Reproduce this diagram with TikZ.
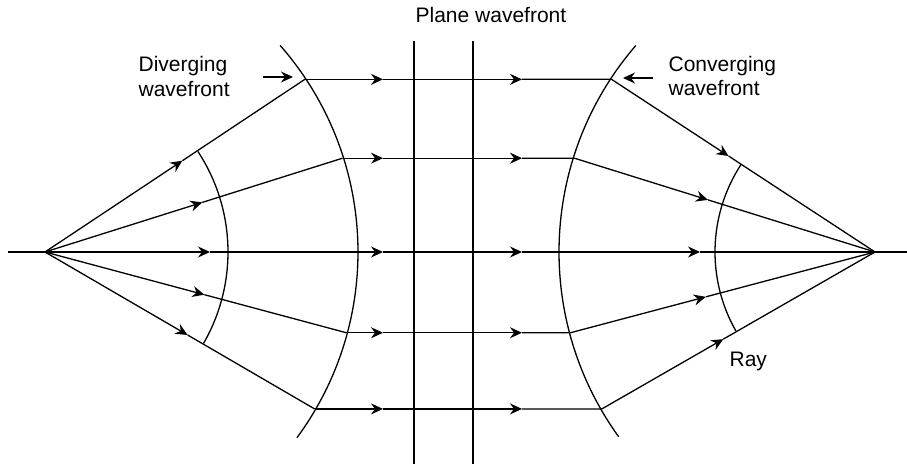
\documentclass[tikz,border=0pt]{standalone}
\usepackage{fontspec}
\setmainfont{Liberation Sans}
\usetikzlibrary{arrows.meta,calc}
\begin{document}
\begin{tikzpicture}[x=0.5pt,y=-0.5pt, line width=0.65pt,
  tip/.style={-{Stealth[length=6pt,width=5.5pt,inset=2pt]}},
  lbl/.style={font=\fontsize{10.5}{12}\selectfont, inner sep=0pt}]
\useasboundingbox (0,0) rectangle (907,464);
% centres
\coordinate (S) at (45,252);
\coordinate (F) at (875,252);
\coordinate (A0) at (8,252);
\coordinate (A1) at (907,252);
\coordinate (xa) at (383,252);
\coordinate (xb) at (522,252);
% points on the large wavefronts
\coordinate (L1) at ($(S)+(-33.6:312)$);
\coordinate (L2) at ($(S)+(-17.5:312)$);
\coordinate (L3) at ($(S)+(0:312)$);
\coordinate (L4) at ($(S)+(15.0:312)$);
\coordinate (L5) at ($(S)+(30.2:312)$);
\coordinate (R1) at ($(F)+(213.24:315)$);
\coordinate (R2) at ($(F)+(197.33:315)$);
\coordinate (R3) at ($(F)+(180:315)$);
\coordinate (R4) at ($(F)+(165.15:315)$);
\coordinate (R5) at ($(F)+(150.12:315)$);
% axis ends
\draw (A0) -- (S);
\draw (F) -- (A1);
% diverging rays
\foreach \i in {1,...,5}{
  \draw[tip] (S) -- ($(S)!82.5pt!(L\i)$);
  \draw ($(S)!82.5pt!(L\i)$) -- (L\i);
  \draw[tip] (L\i) -- (L\i -| xa);
  \draw[tip] (L\i -| xa) -- (L\i -| xb);
  \draw (L\i -| xb) -- (R\i);
  \draw[tip] (R\i) -- ($(R\i)!70pt!(F)$);
  \draw ($(R\i)!70pt!(F)$) -- (F);
}
% wavefronts
\draw ($(S)+(-33.3:183)$) arc[start angle=-33.3, end angle=30, radius=183];
\draw ($(S)+(-41.3:313)$) arc[start angle=-41.3, end angle=36.4, radius=313];
\draw ($(F)+(144.2:316)$) arc[start angle=144.2, end angle=220.8, radius=316];
\draw ($(F)+(150.4:160)$) arc[start angle=150.4, end angle=213.1, radius=160];
% plane wavefronts
\coordinate (P1t) at (414,41); \coordinate (P1b) at (414,464);
\coordinate (P2t) at (473,41); \coordinate (P2b) at (473,464);
\draw (P1t) -- (P1b);
\draw (P2t) -- (P2b);
% pointer arrows
\coordinate (da0) at (263,77); \coordinate (da1) at (293,77);
\coordinate (ca0) at (653,78); \coordinate (ca1) at (623,78);
\draw[tip] (da0) -- (da1);
\draw[tip] (ca0) -- (ca1);
% labels
\node[lbl, anchor=base west] (t0) at (415,22.5) {Plane wavefront};
\node[lbl, anchor=base west] (t1) at (138,72) {Diverging};
\node[lbl, anchor=base west] (t2) at (138,96.5) {wavefront};
\node[lbl, anchor=base west] (t3) at (668,71.5) {Converging};
\node[lbl, anchor=base west] (t4) at (668,96) {wavefront};
\node[lbl, anchor=base west] (t5) at (729,367) {Ray};
\end{tikzpicture}
\end{document}
